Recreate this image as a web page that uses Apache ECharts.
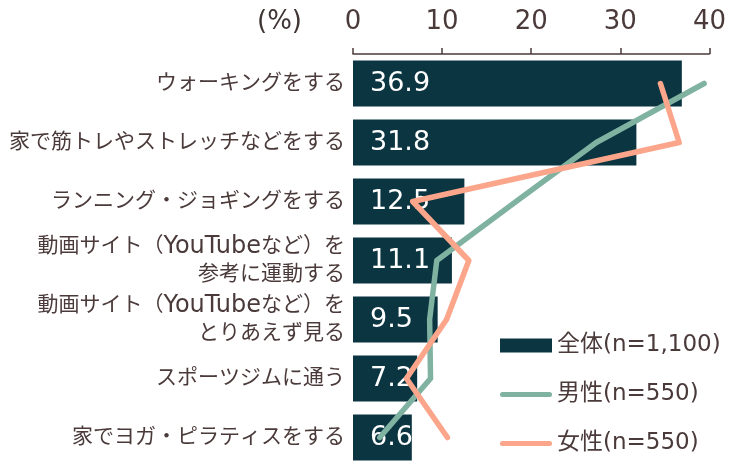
<!DOCTYPE html>
<html>
<head>
<meta charset="utf-8">
<script src="https://cdn.jsdelivr.net/npm/echarts@6/dist/echarts.min.js"></script>
<style>
  html, body { margin: 0; padding: 0; background: #fff; }
  #chart { width: 729px; height: 467px; }
</style>
</head>
<body>
<div id="chart"></div>
<script>
const categories = [
  'ウォーキングをする',
  '家で筋トレやストレッチなどをする',
  'ランニング・ジョギングをする',
  '動画サイト（YouTubeなど）を\n参考に運動する',
  '動画サイト（YouTubeなど）を\nとりあえず見る',
  'スポーツジムに通う',
  '家でヨガ・ピラティスをする'
]
const totalValues = [36.9, 31.8, 12.5, 11.1, 9.5, 7.2, 6.6]
const maleValues = [39.4, 27.3, 18.3, 9.4, 8.6, 8.7, 3.0]
const femaleValues = [34.5, 36.6, 6.7, 13.0, 10.5, 6.0, 10.6]
const seriesNames = ['全体(n=1,100)', '男性(n=550)', '女性(n=550)']

const textColor = '#4b3a3a'
const font = "'DejaVu Sans', 'Noto Sans CJK JP', sans-serif"
// thin rounded bar for the line legend items
const lineIcon = 'path://M2.5,0 L49.5,0 A2.5,2.5 0 0 1 49.5,5 L2.5,5 A2.5,2.5 0 0 1 2.5,0 Z'

const chart = echarts.init(document.getElementById('chart'))
chart.setOption({
  backgroundColor: '#fff',
  animation: false,
  textStyle: { fontFamily: font },
  title: {
    text: '(%)',
    left: 252,
    top: 4,
    textStyle: { fontSize: 26, fontWeight: 'normal', color: '#3f3535', fontFamily: font }
  },
  legend: {
    orient: 'vertical',
    left: 495,
    top: 329,
    itemWidth: 52,
    itemHeight: 14,
    itemGap: 26,
    data: [
      { name: seriesNames[0], icon: 'rect' },
      { name: seriesNames[1], icon: lineIcon },
      { name: seriesNames[2], icon: lineIcon }
    ],
    textStyle: { fontSize: 23, color: textColor, fontFamily: font }
  },
  grid: {
    top: 54,
    left: 353,
    right: 18,
    height: 420,
    containLabel: false
  },
  xAxis: {
    type: 'value',
    position: 'top',
    min: 0,
    max: 40,
    interval: 10,
    axisLine: { show: true, lineStyle: { color: textColor, width: 1.5 } },
    axisTick: { show: true, length: 6, lineStyle: { color: textColor, width: 1.5 } },
    axisLabel: { margin: 19, fontSize: 26, color: textColor, fontFamily: font },
    splitLine: { show: false }
  },
  yAxis: {
    type: 'category',
    inverse: true,
    data: categories,
    axisLine: { show: false },
    axisTick: { show: false },
    axisLabel: {
      margin: 8,
      fontSize: 21,
      lineHeight: 28,
      color: textColor,
      fontFamily: font,
      formatter: function (val) {
        return val.replace('YouTube', '{en|YouTube}')
      },
      rich: {
        en: { fontSize: 24, lineHeight: 28, color: textColor, fontFamily: font }
      }
    }
  },
  series: [
    {
      name: seriesNames[0],
      type: 'bar',
      data: totalValues,
      barWidth: 46,
      itemStyle: { color: '#0b3540' },
      label: {
        show: true,
        position: 'insideLeft',
        distance: 17,
        color: '#fff',
        fontSize: 27,
        fontFamily: font
      },
      z: 2
    },
    {
      name: seriesNames[1],
      type: 'line',
      data: maleValues,
      symbol: 'none',
      color: '#80b2a2',
      lineStyle: { color: '#80b2a2', width: 5.5, cap: 'round', join: 'round' },
      z: 3
    },
    {
      name: seriesNames[2],
      type: 'line',
      data: femaleValues,
      symbol: 'none',
      color: '#fba58b',
      lineStyle: { color: '#fba58b', width: 5.5, cap: 'round', join: 'round' },
      z: 4
    }
  ]
})
</script>
</body>
</html>
